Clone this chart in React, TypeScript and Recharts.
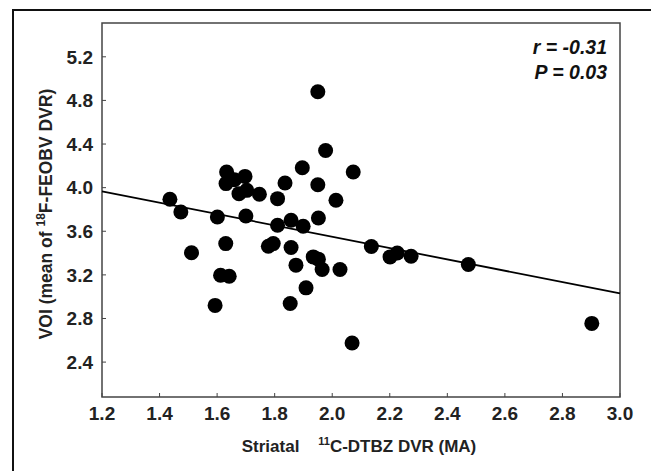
import React from 'react';
import { ScatterChart, Scatter, XAxis, YAxis, ReferenceLine, ReferenceArea } from 'recharts';

// Striatal 11C-DTBZ DVR (MA)
const dtbzDVR = [
  1.436, 1.474, 1.511, 1.593, 1.601, 1.612, 1.630, 1.631, 1.633, 1.642,
  1.660, 1.676, 1.697, 1.700, 1.703, 1.747, 1.778, 1.795, 1.810, 1.810,
  1.836, 1.854, 1.857, 1.857, 1.874, 1.896, 1.899, 1.909, 1.934, 1.950,
  1.950, 1.952, 1.952, 1.965, 1.977, 2.013, 2.027, 2.069, 2.073, 2.136,
  2.201, 2.226, 2.274, 2.473, 2.902,
];
// VOI (mean of 18F-FEOBV DVR)
const feobvDVR = [
  3.893, 3.777, 3.403, 2.920, 3.731, 3.197, 3.487, 4.037, 4.143, 3.188,
  4.073, 3.945, 4.103, 3.740, 3.975, 3.939, 3.463, 3.487, 3.899, 3.655,
  4.042, 2.938, 3.701, 3.451, 3.289, 4.183, 3.646, 3.081, 3.365, 4.027,
  4.880, 3.722, 3.344, 3.249, 4.341, 3.884, 3.249, 2.575, 4.143, 3.460,
  3.365, 3.401, 3.371, 3.295, 2.755,
];
const xTicks = [1.2, 1.4, 1.6, 1.8, 2.0, 2.2, 2.4, 2.6, 2.8, 3.0];
const yTicks = [2.4, 2.8, 3.2, 3.6, 4.0, 4.4, 4.8, 5.2];
const xDomain = [1.2, 3.0];
const yDomain = [2.08, 5.51];
const fitX = [1.2, 3.0];
const fitY = [3.966, 3.03];
const statR = 'r = -0.31';
const statP = 'P = 0.03';

const points = dtbzDVR.map((x, i) => ({ x, y: feobvDVR[i] }));

const FONT = '"Liberation Sans", Arial, sans-serif';
const TICK_MARGIN_Y = 9;
const TICK_MARGIN_X = 9;
const INNER_TICK = 4;
const TICK_FONT = 19;

const YTick = (props: any) => {
  const { x, y, payload } = props;
  const ax = x + TICK_MARGIN_Y;
  return (
    <g>
      <line x1={ax} x2={ax + INNER_TICK} y1={y} y2={y} stroke="#444" strokeWidth={1} />
      <text x={x} y={y} dy="0.36em" textAnchor="end" fontFamily={FONT} fontWeight="bold" fontSize={TICK_FONT} fill="#222">
        {payload.value.toFixed(1)}
      </text>
    </g>
  );
};

const XTick = (props: any) => {
  const { x, y, payload } = props;
  const ay = y - TICK_MARGIN_X;
  return (
    <g>
      <line x1={x} x2={x} y1={ay} y2={ay - INNER_TICK} stroke="#444" strokeWidth={1} />
      <text x={x} y={y} dy="0.72em" textAnchor="middle" fontFamily={FONT} fontWeight="bold" fontSize={TICK_FONT} fill="#222">
        {payload.value.toFixed(1)}
      </text>
    </g>
  );
};

const Dot = (props: any) => <circle cx={props.cx} cy={props.cy} r={7.5} fill="#000" />;

export default function App() {
  return (
    <div style={{ position: 'absolute', left: 0, top: 0, width: 651, height: 471, background: '#fff', overflow: 'hidden' }}>
      <div
        style={{
          position: 'absolute', left: 12, top: 9, width: 639, height: 462,
          borderTop: '2px solid #111', borderLeft: '2px solid #111', boxSizing: 'border-box',
        }}
      />
      <div style={{ position: 'absolute', left: 0, top: 0 }}>
        <ScatterChart width={651} height={471} margin={{ top: 23, right: 31, left: 0, bottom: 0 }}>
          <XAxis
            type="number" dataKey="x" domain={xDomain} ticks={xTicks} height={74}
            axisLine={false} tickLine={false} tickSize={0} tickMargin={TICK_MARGIN_X}
            tick={<XTick />} interval={0} allowDataOverflow
          />
          <YAxis
            type="number" dataKey="y" domain={yDomain} ticks={yTicks} width={102}
            axisLine={false} tickLine={false} tickSize={0} tickMargin={TICK_MARGIN_Y}
            tick={<YTick />} interval={0} allowDataOverflow
          />
          <ReferenceArea x1={xDomain[0]} x2={xDomain[1]} y1={yDomain[0]} y2={yDomain[1]} fill="none" fillOpacity={0} stroke="#444" strokeWidth={1.5} />
          <ReferenceLine
            segment={[{ x: fitX[0], y: fitY[0] }, { x: fitX[1], y: fitY[1] }]}
            stroke="#000" strokeWidth={1.8}
          />
          <Scatter data={points} shape={<Dot />} isAnimationActive={false} />
        </ScatterChart>
      </div>
      <svg width={651} height={471} style={{ position: 'absolute', left: 0, top: 0, pointerEvents: 'none' }}>
        <text x={359} y={452} textAnchor="middle" fontFamily={FONT} fontWeight="bold" fontSize={17} fill="#222">
          Striatal{'\u00a0\u00a0\u00a0 '}
          <tspan dy={-7} fontSize={11}>11</tspan>
          <tspan dy={7}>C-DTBZ DVR (MA)</tspan>
        </text>
        <text
          transform="translate(52, 214) rotate(-90)" textAnchor="middle"
          fontFamily={FONT} fontWeight="bold" fontSize={17.5} fill="#222"
        >
          VOI (mean of{' '}
          <tspan dy={-7} fontSize={12}>18</tspan>
          <tspan dy={7}>F-FEOBV DVR)</tspan>
        </text>
        <text x={607} y={54} textAnchor="end" fontFamily={FONT} fontWeight="bold" fontStyle="italic" fontSize={19.5} fill="#111">
          {statR}
        </text>
        <text x={607} y={79} textAnchor="end" fontFamily={FONT} fontWeight="bold" fontStyle="italic" fontSize={19.5} fill="#111">
          {statP}
        </text>
      </svg>
    </div>
  );
}
